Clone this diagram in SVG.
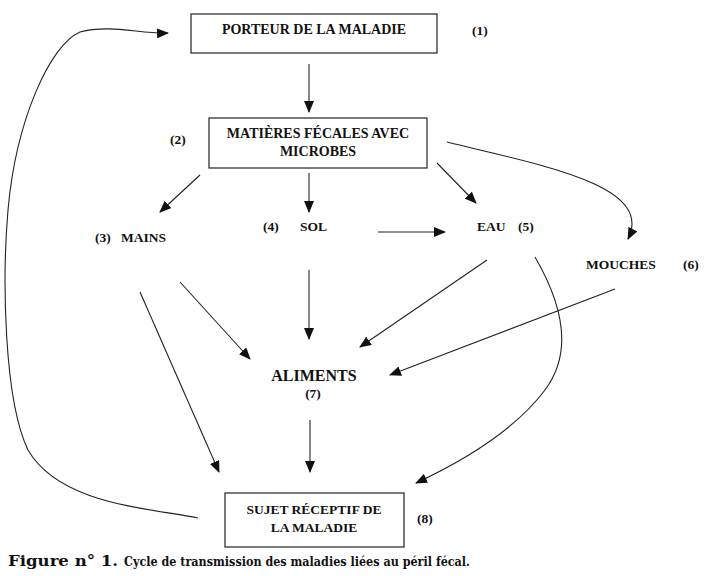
<svg xmlns="http://www.w3.org/2000/svg" width="713" height="576" viewBox="0 0 713 576">
<style>
.t{font-family:"Liberation Serif","Times New Roman",serif;font-weight:bold;fill:#111;}
.cap{font-family:"DejaVu Serif","Liberation Serif",serif;font-weight:bold;fill:#111;}
.box{fill:#fff;stroke:#222;stroke-width:1.2;}
.c{fill:none;stroke:#222;stroke-width:1.1;}
</style>
<defs>
<marker id="ah" viewBox="0 0 12 10" refX="11" refY="5" markerWidth="12" markerHeight="10" markerUnits="userSpaceOnUse" orient="auto">
<path d="M0,0 L12,5 L0,10 Z" fill="#111"/>
</marker>
</defs>
<rect width="713" height="576" fill="#fff"/>
<g id="connectors">
<line class="c" x1="309" y1="64" x2="309" y2="112" marker-end="url(#ah)"/>
<line class="c" x1="200" y1="175" x2="160" y2="212" marker-end="url(#ah)"/>
<line class="c" x1="309" y1="173" x2="309" y2="212" marker-end="url(#ah)"/>
<line class="c" x1="437" y1="163" x2="476" y2="203" marker-end="url(#ah)"/>
<path class="c" d="M447,142 C540,165 655,185 628,239" marker-end="url(#ah)"/>
<line class="c" x1="378" y1="232" x2="445" y2="232" marker-end="url(#ah)"/>
<line class="c" x1="309" y1="270" x2="309" y2="339" marker-end="url(#ah)"/>
<line class="c" x1="180" y1="282" x2="250" y2="359" marker-end="url(#ah)"/>
<line class="c" x1="140" y1="292" x2="219" y2="472" marker-end="url(#ah)"/>
<line class="c" x1="487" y1="260" x2="360" y2="347" marker-end="url(#ah)"/>
<line class="c" x1="615" y1="289" x2="390" y2="375" marker-end="url(#ah)"/>
<line class="c" x1="310" y1="420" x2="310" y2="472" marker-end="url(#ah)"/>
<path class="c" d="M535,257 C560,300 575,350 545,390 C515,430 465,460 416,483" marker-end="url(#ah)"/>
<path class="c" d="M198,518 C150,508 60,505 28,450 C4,400 2,280 8,210 C16,120 50,45 80,32 C110,24 140,34 168,33" marker-end="url(#ah)"/>
</g>
<g id="n1">
<rect class="box" x="191" y="14" width="246" height="39"/>
<text class="t" x="314" y="34" font-size="14" text-anchor="middle">PORTEUR DE LA MALADIE</text>
<text class="t" x="472" y="35" font-size="13.5">(1)</text>
</g>
<g id="n2">
<rect class="box" x="209" y="118" width="218" height="50"/>
<text class="t" x="318" y="138" font-size="14" text-anchor="middle">MATIÈRES FÉCALES AVEC</text>
<text class="t" x="318" y="156" font-size="14" text-anchor="middle">MICROBES</text>
<text class="t" x="170" y="144" font-size="13.5">(2)</text>
</g>
<g id="n3">
<text class="t" x="95" y="242" font-size="13.5">(3)</text>
<text class="t" x="121" y="242" font-size="13.5">MAINS</text>
</g>
<g id="n4">
<text class="t" x="263" y="231" font-size="13.5">(4)</text>
<text class="t" x="300" y="231" font-size="13.5">SOL</text>
</g>
<g id="n5">
<text class="t" x="477" y="231" font-size="13.5">EAU</text>
<text class="t" x="518" y="231" font-size="13.5">(5)</text>
</g>
<g id="n6">
<text class="t" x="586" y="269" font-size="13.5">MOUCHES</text>
<text class="t" x="683" y="269" font-size="13.5">(6)</text>
</g>
<g id="n7">
<text class="t" x="314" y="381" font-size="16" text-anchor="middle">ALIMENTS</text>
<text class="t" x="313" y="398" font-size="13.5" text-anchor="middle">(7)</text>
</g>
<g id="n8">
<rect class="box" x="225" y="493" width="179" height="54"/>
<text class="t" x="314" y="514" font-size="13.5" text-anchor="middle">SUJET RÉCEPTIF DE</text>
<text class="t" x="314" y="532" font-size="13.5" text-anchor="middle">LA MALADIE</text>
<text class="t" x="417" y="523" font-size="13.5">(8)</text>
</g>
<g id="caption">
<text class="cap" x="8" y="566" font-size="15" textLength="110" lengthAdjust="spacingAndGlyphs">Figure n° 1.</text>
<text class="cap" x="124" y="566" font-size="12" textLength="346" lengthAdjust="spacingAndGlyphs">Cycle de transmission des maladies liées au péril fécal.</text>
</g>
</svg>
